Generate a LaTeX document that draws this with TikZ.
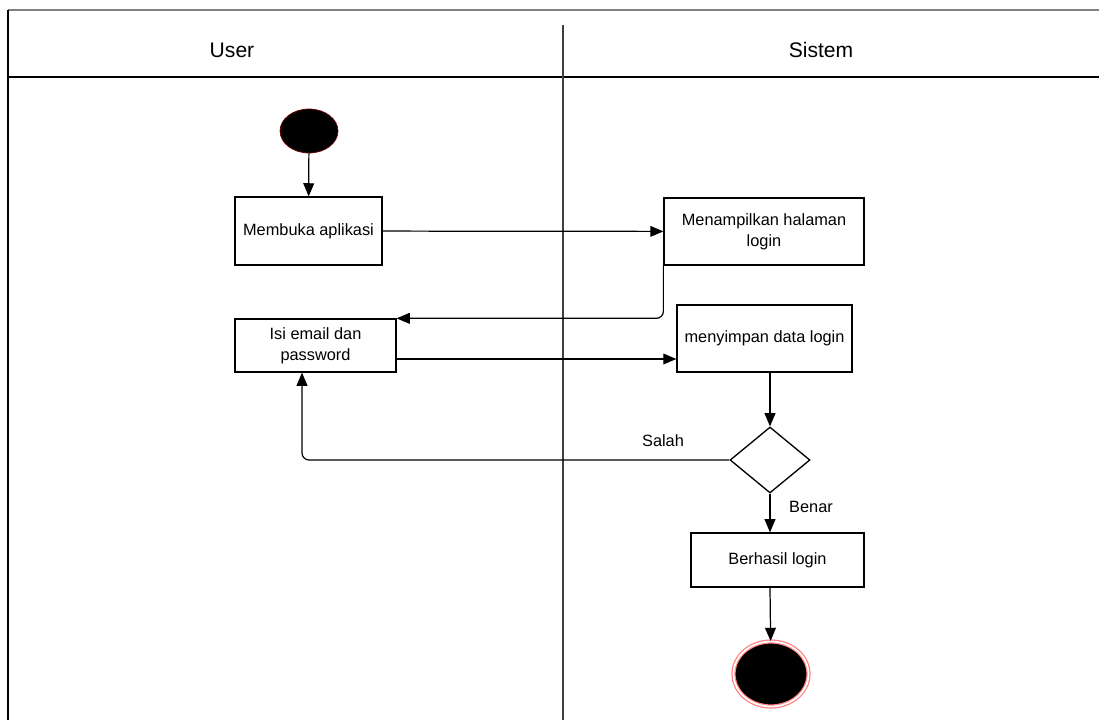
\documentclass[tikz,border=0pt]{standalone}
\usepackage{fontspec}
\setmainfont{Liberation Sans}
\usepackage{tikz}
\usetikzlibrary{arrows, shapes.geometric, positioning}

\begin{document}
\begin{tikzpicture}[x=0.02cm, y=-0.02cm, >=triangle 45,
                        aksi/.style={draw, rectangle, align=center, line width=0.75pt, font=\fontsize{9.3}{12}\selectfont},
                        panah/.style={->, line width=0.7pt},
                        teks/.style={font=\fontsize{9.3}{12}\selectfont}]
                        \useasboundingbox (0, 0) rectangle (1099, 720);

                        % swimlanes
                        \draw[gray, line width=1.3pt] (8, 10) -- (1099, 10);
                        \draw[line width=0.8pt] (8, 10) -- (8, 720);
                        \draw[line width=0.9pt] (8, 77) -- (1099, 77);
                        \draw[black!75, line width=0.8pt] (563, 25) -- (563, 720);
                        \node[font=\fontsize{12}{14}\selectfont] (user) at (232, 50) {User};
                        \node[font=\fontsize{12}{14}\selectfont] (sistem) at (821, 50) {Sistem};

                        \node[ellipse, fill=black, draw=red!45!black, minimum width=1.16cm, minimum height=0.88cm] (mulai) at (309, 131) {};
                        \node[aksi, minimum width=2.94cm, minimum height=1.36cm] (buka) at (308.5, 231) {Membuka aplikasi};
                        \node[aksi, minimum width=4cm, minimum height=1.34cm] (tampil) at (764, 231.5) {Menampilkan halaman\\login};
                        \node[aksi, minimum width=3.22cm, minimum height=1.06cm] (isi) at (315.5, 345.5) {Isi email dan\\password};
                        \node[aksi, minimum width=3.5cm, minimum height=1.34cm] (simpan) at (764.5, 338.5) {menyimpan data login};
                        \node[diamond, draw, line width=0.75pt, inner sep=0pt, minimum width=1.6cm, minimum height=1.32cm] (cek) at (770, 460) {};
                        \node[aksi, minimum width=3.46cm, minimum height=1.08cm] (hasil) at (777.5, 560) {Berhasil login};
                        \node[ellipse, fill=black, draw=red!50, double=white, double distance=1pt, line width=0.7pt, minimum width=1.5cm, minimum height=1.3cm] (akhir) at (771, 674) {};

                        \node[teks] (salah) at (663, 441) {Salah};
                        \node[teks] (benar) at (811, 507) {Benar};

                        \path ([yshift=-0.27cm]isi.east) coordinate (isikanan);
                        \path ([xshift=-0.27cm]isi.south) coordinate (isibawah);

                        \draw[panah]
                        (mulai) -- (buka);
                        \draw[panah]
                        (buka) -- (tampil);
                        \draw[panah, rounded corners=4pt]
                        (tampil.south west) |- (isi.north east);
                        \draw[panah]
                        (isikanan) -- (isikanan -| simpan.west);
                        \draw[panah]
                        (simpan.south -| cek.north) -- (cek.north);
                        \draw[panah, rounded corners=4pt]
                        (cek.west) -| (isibawah);
                        \draw[panah]
                        (cek.south) -- (cek.south |- hasil.north);
                        \draw[panah]
                        (cek.south |- hasil.south) -- (akhir);
                    \end{tikzpicture}
\end{document}
